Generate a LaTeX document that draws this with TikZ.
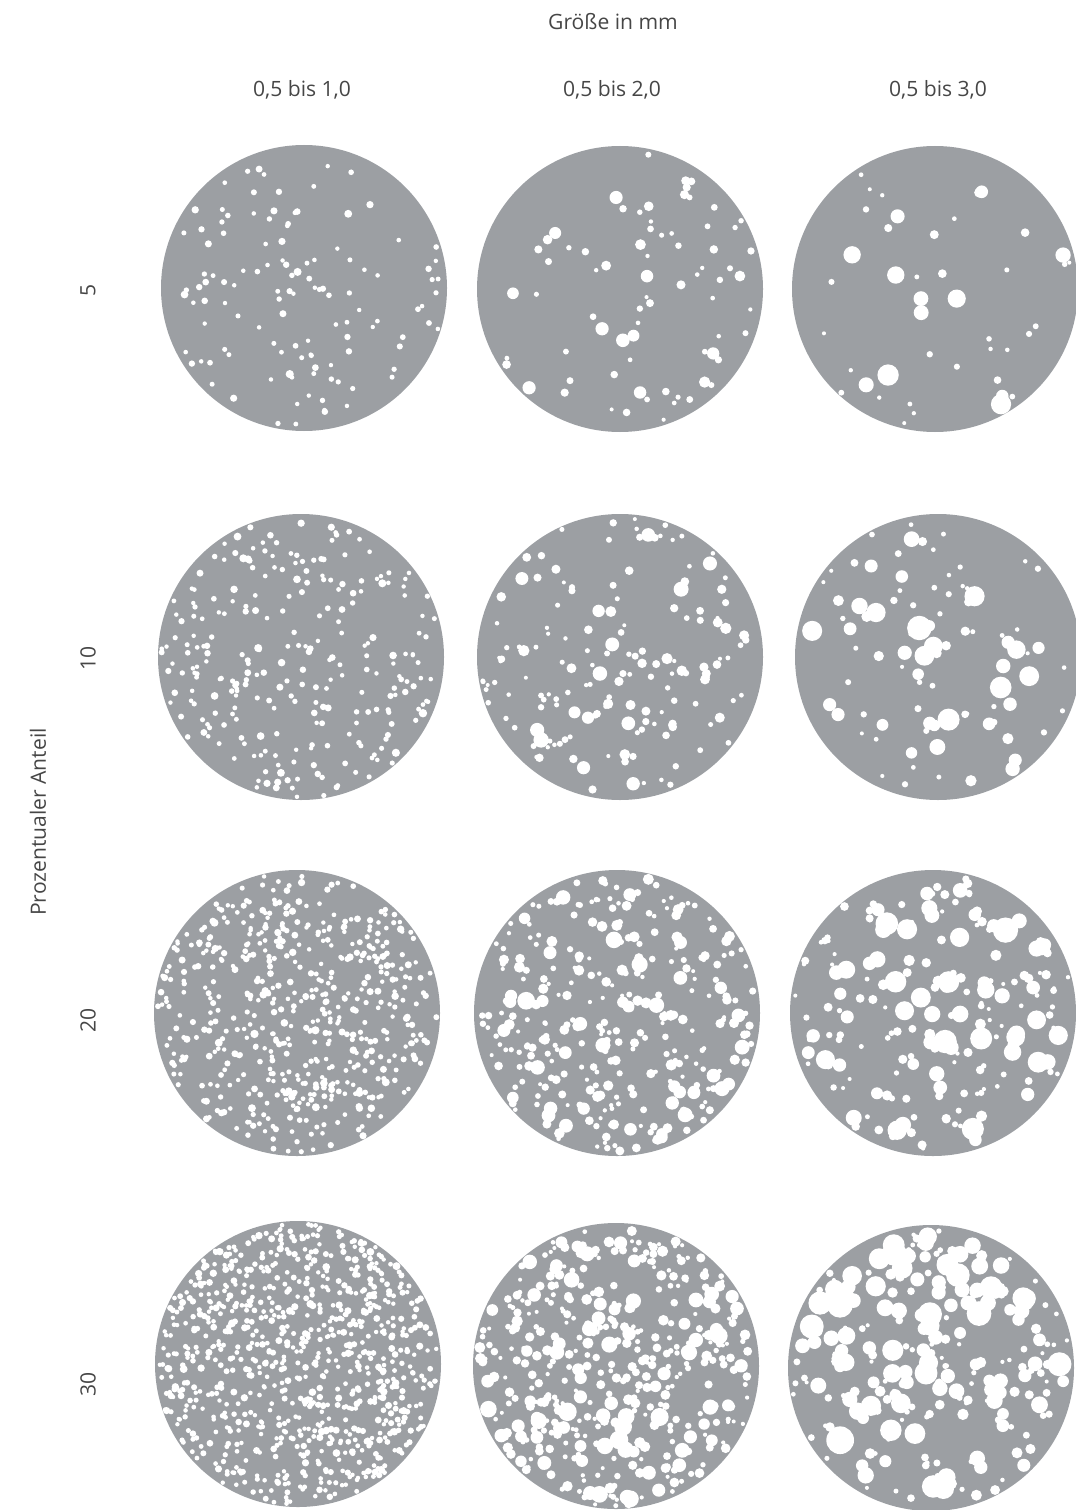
\documentclass[tikz,border=0pt]{standalone}
\usepackage{fontspec}
\setmainfont{Open Sans}
\usepackage{tikz}
\usetikzlibrary{positioning}
\definecolor{discgray}{RGB}{156,159,163}
\definecolor{labelgray}{RGB}{70,70,70}
\tikzset{
  disc/.style={fill=discgray},
  pore/.style={fill=white},
  head/.style={font=\fontsize{15}{18}\selectfont,text=labelgray,inner sep=0pt},
  rowlab/.style={head,rotate=90},
}
\begin{document}
\begin{tikzpicture}[x=0.025cm,y=-0.025cm]
  \path[use as bounding box] (0,0) rectangle (1076,1510);
  \node[head] (size) at (613,22) {Größe in mm};
  \node[head] (colA) at (302,90) {0,5 bis 1,0};
  \node[head] (colB) at (612,90) {0,5 bis 2,0};
  \node[head] (colC) at (938,90) {0,5 bis 3,0};

  \node[rowlab] (share) at (38,822) {Prozentualer Anteil};
  \node[rowlab] (rowA) at (88,290) {5};
  \node[rowlab] (rowB) at (88,658) {10};
  \node[rowlab] (rowC) at (88,1020) {20};
  \node[rowlab] (rowD) at (88,1384) {30};

  \foreach \cx/\cy/\n/\rmin/\rmax/\seed in {
      304/288/120/2.2/4.4/11, 620/289/75/2/8/12, 935/289/45/2/12/13,
      301/657/260/2.2/4.3/21, 620/657/160/2/8.5/22, 938/657/90/2/13/23,
      297/1013/540/2.2/4.2/31, 617/1013/320/2/9/32, 933/1013/190/2/13.5/33,
      298/1364/860/2.2/4/41, 616/1366/440/2/9.5/42, 931/1368/270/2/15/43}{
    \fill[disc] (\cx,\cy) circle (143);
    \pgfmathsetseed{\seed}
    \foreach \k in {1,...,\n}{
      \pgfmathsetmacro\dd{\rmin+(\rmax-\rmin)*rnd*rnd}
      \pgfmathsetmacro\dist{(143-\dd)*sqrt(rnd)}
      \pgfmathsetmacro\ang{360*rnd}
      \fill[pore] ({\cx+\dist*cos(\ang)},{\cy+\dist*sin(\ang)}) circle (\dd);
    }
  }
\end{tikzpicture}
\end{document}
